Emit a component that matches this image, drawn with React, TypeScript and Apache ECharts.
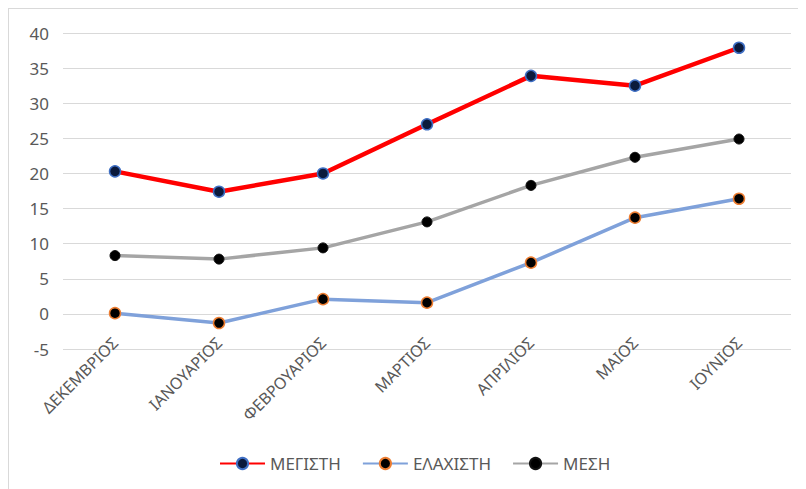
import React, { useEffect, useRef } from "react";
import * as echarts from "echarts";

const months = ["ΔΕΚΕΜΒΡΙΟΣ", "ΙΑΝΟΥΑΡΙΟΣ", "ΦΕΒΡΟΥΑΡΙΟΣ", "ΜΑΡΤΙΟΣ", "ΑΠΡΙΛΙΟΣ", "ΜΑΙΟΣ", "ΙΟΥΝΙΟΣ"];
const maxTemp = [20.3, 17.4, 20.0, 27.0, 33.9, 32.5, 37.9];
const minTemp = [0.1, -1.3, 2.1, 1.6, 7.3, 13.7, 16.4];
const meanTemp = [8.3, 7.8, 9.4, 13.1, 18.3, 22.3, 24.9];

const FONT = "'Noto Sans', 'Open Sans', sans-serif";
const TEXT = "#595959";

export default function App() {
  const ref = useRef<HTMLDivElement>(null);

  useEffect(() => {
    if (!ref.current) return;
    const chart = echarts.init(ref.current, undefined, { renderer: "svg" });
    chart.setOption({
      animation: false,
      backgroundColor: "#ffffff",
      textStyle: { fontFamily: FONT, color: TEXT },
      grid: { left: 54, right: 15, top: 24, height: 316 },
      legend: {
        left: 205,
        top: 441,
        itemWidth: 45,
        itemHeight: 14,
        itemGap: 21,
        textStyle: { fontFamily: FONT, fontSize: 17, color: TEXT },
        data: ["ΜΕΓΙΣΤΗ", "ΕΛΑΧΙΣΤΗ", "ΜΕΣΗ"],
      },
      xAxis: {
        type: "category",
        data: months,
        boundaryGap: true,
        axisLine: { show: false },
        axisTick: { show: false },
        axisLabel: {
          rotate: 45,
          // labels sit just under the zero line, as the axis crosses at 0
          margin: -9,
          fontSize: 16,
          color: TEXT,
          fontFamily: FONT,
          interval: 0,
        },
      },
      yAxis: {
        type: "value",
        min: -5,
        max: 40,
        interval: 5,
        axisLine: { show: false },
        axisTick: { show: false },
        axisLabel: { fontSize: 17, color: TEXT, fontFamily: FONT, margin: 14 },
        splitLine: { lineStyle: { color: "#d9d9d9", width: 1 } },
      },
      series: [
        {
          name: "ΜΕΓΙΣΤΗ",
          type: "line",
          data: maxTemp,
          symbol: "circle",
          symbolSize: 11,
          lineStyle: { color: "#ff0000", width: 4.5 },
          itemStyle: { color: "#0b1a3c", borderColor: "#3f6fc4", borderWidth: 1.5 },
          z: 4,
        },
        {
          name: "ΕΛΑΧΙΣΤΗ",
          type: "line",
          data: minTemp,
          symbol: "circle",
          symbolSize: 11,
          lineStyle: { color: "#7fa1da", width: 3.5 },
          itemStyle: { color: "#000000", borderColor: "#ed7d31", borderWidth: 1.5 },
          z: 3,
        },
        {
          name: "ΜΕΣΗ",
          type: "line",
          data: meanTemp,
          symbol: "circle",
          symbolSize: 10,
          lineStyle: { color: "#a5a5a5", width: 3.5 },
          itemStyle: { color: "#000000", borderColor: "#111111", borderWidth: 1 },
          z: 3,
        },
      ],
    });
    return () => chart.dispose();
  }, []);

  return (
    <div style={{ width: 797, height: 480, border: "1px solid #d9d9d9", background: "#fff" }}>
      <div ref={ref} style={{ width: 797, height: 480 }} />
    </div>
  );
}
